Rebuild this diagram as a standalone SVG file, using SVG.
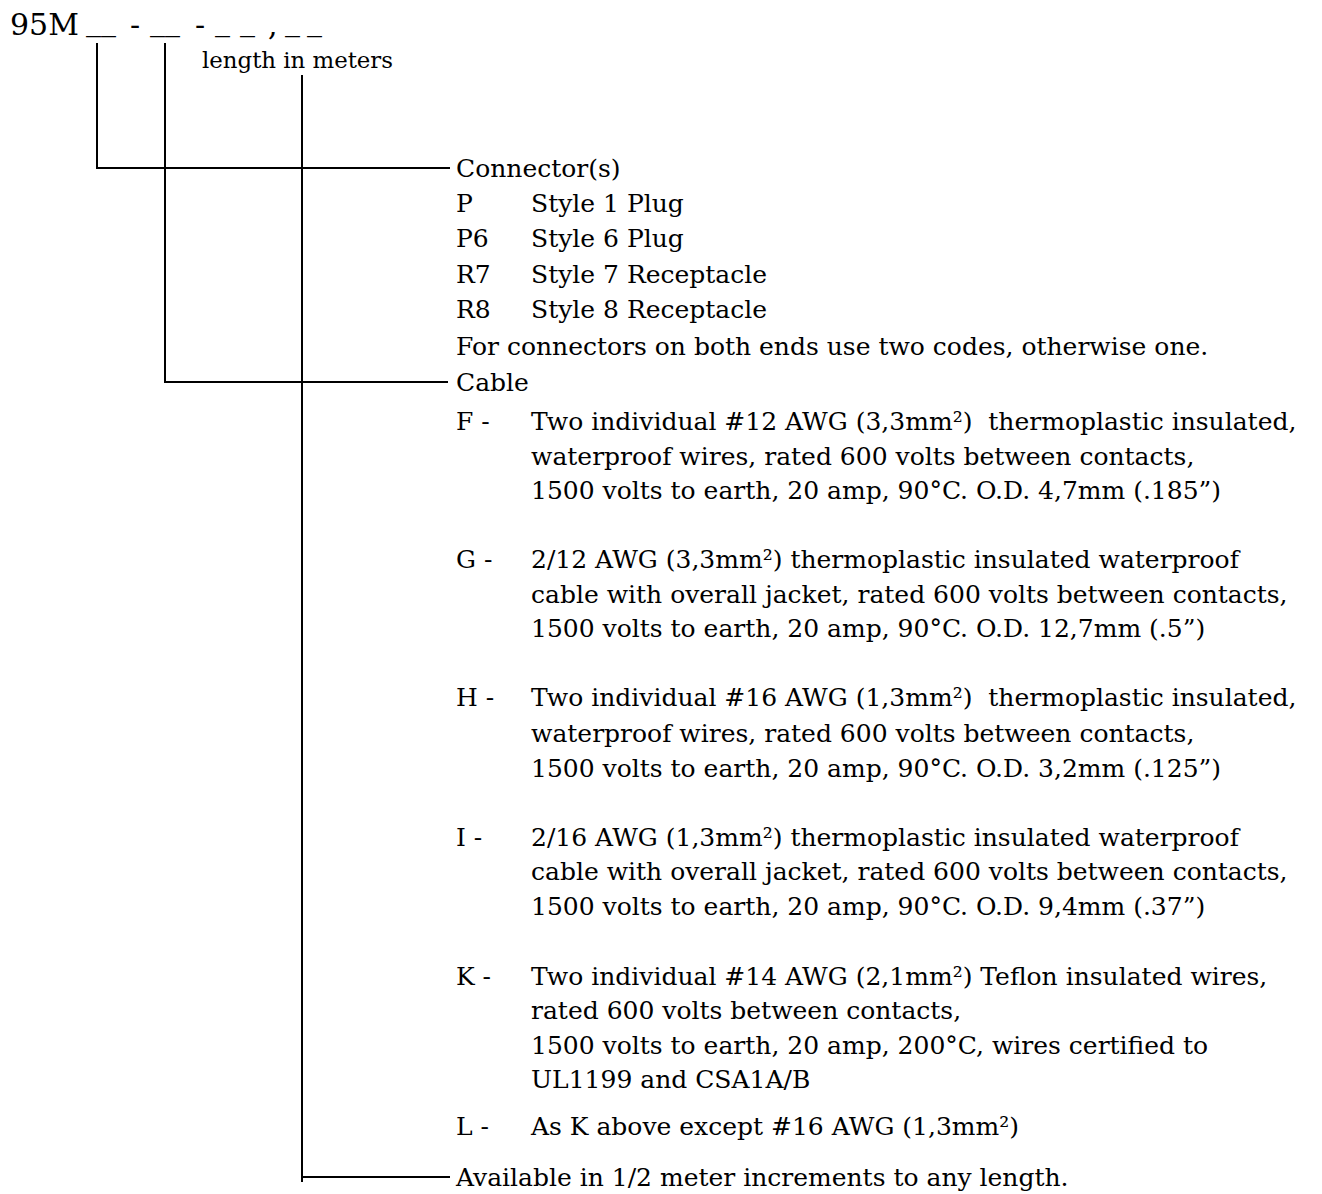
<svg xmlns="http://www.w3.org/2000/svg" width="1322" height="1194" viewBox="0 0 1322 1194">
<style>
text{font-family:"DejaVu Serif","Liberation Serif",serif;fill:#000;white-space:pre}
.t{font-size:25px}
.s{font-size:22px}
.h{font-size:30px}
.ln{fill:none;stroke:#000;stroke-width:2}
</style>
<rect width="1322" height="1194" fill="#fff"/>
<g id="connectors">
<path class="ln" d="M97,43 V168 H450"/>
<path class="ln" d="M165,43 V382 H448"/>
<path class="ln" d="M302,75 V1182 M302,1177 H450"/>
</g>
<g id="part-number">
<text class="h" x="10" y="35">95M</text>
<text class="h" x="86" y="30">__</text>
<text class="h" x="130" y="35">-</text>
<text class="h" x="150" y="30">__</text>
<text class="h" x="195" y="35">-</text>
<text class="h" x="215" y="30">_</text>
<text class="h" x="240" y="30">_</text>
<text class="h" x="268" y="35">,</text>
<text class="h" x="285" y="30">_</text>
<text class="h" x="307" y="30">_</text>
<text class="s" x="202" y="68" textLength="191" lengthAdjust="spacingAndGlyphs">length in meters</text>
</g>
<g id="connector-options">
<text class="t" x="456" y="177">Connector(s)</text>
<text class="t" x="456" y="212">P</text><text class="t" x="531" y="212">Style 1 Plug</text>
<text class="t" x="456" y="247">P6</text><text class="t" x="531" y="247">Style 6 Plug</text>
<text class="t" x="456" y="283">R7</text><text class="t" x="531" y="283">Style 7 Receptacle</text>
<text class="t" x="456" y="318">R8</text><text class="t" x="531" y="318">Style 8 Receptacle</text>
<text class="t" x="456" y="355">For connectors on both ends use two codes, otherwise one.</text>
</g>
<g id="cable-options">
<text class="t" x="456" y="391">Cable</text>
<text class="t" x="456" y="430">F -</text>
<text class="t" x="531" y="430">Two individual #12 AWG (3,3mm²)  thermoplastic insulated,</text>
<text class="t" x="531" y="465">waterproof wires, rated 600 volts between contacts,</text>
<text class="t" x="531" y="499">1500 volts to earth, 20 amp, 90°C. O.D. 4,7mm (.185”)</text>
<text class="t" x="456" y="568">G -</text>
<text class="t" x="531" y="568">2/12 AWG (3,3mm²) thermoplastic insulated waterproof</text>
<text class="t" x="531" y="603">cable with overall jacket, rated 600 volts between contacts,</text>
<text class="t" x="531" y="637">1500 volts to earth, 20 amp, 90°C. O.D. 12,7mm (.5”)</text>
<text class="t" x="456" y="706">H -</text>
<text class="t" x="531" y="706">Two individual #16 AWG (1,3mm²)  thermoplastic insulated,</text>
<text class="t" x="531" y="742">waterproof wires, rated 600 volts between contacts,</text>
<text class="t" x="531" y="777">1500 volts to earth, 20 amp, 90°C. O.D. 3,2mm (.125”)</text>
<text class="t" x="456" y="846">I -</text>
<text class="t" x="531" y="846">2/16 AWG (1,3mm²) thermoplastic insulated waterproof</text>
<text class="t" x="531" y="880">cable with overall jacket, rated 600 volts between contacts,</text>
<text class="t" x="531" y="915">1500 volts to earth, 20 amp, 90°C. O.D. 9,4mm (.37”)</text>
<text class="t" x="456" y="985">K -</text>
<text class="t" x="531" y="985">Two individual #14 AWG (2,1mm²) Teflon insulated wires,</text>
<text class="t" x="531" y="1019">rated 600 volts between contacts,</text>
<text class="t" x="531" y="1054">1500 volts to earth, 20 amp, 200°C, wires certified to</text>
<text class="t" x="531" y="1088">UL1199 and CSA1A/B</text>
<text class="t" x="456" y="1135">L -</text>
<text class="t" x="531" y="1135">As K above except #16 AWG (1,3mm²)</text>
</g>
<g id="length-options">
<text class="t" x="456" y="1186">Available in 1/2 meter increments to any length.</text>
</g>
</svg>
